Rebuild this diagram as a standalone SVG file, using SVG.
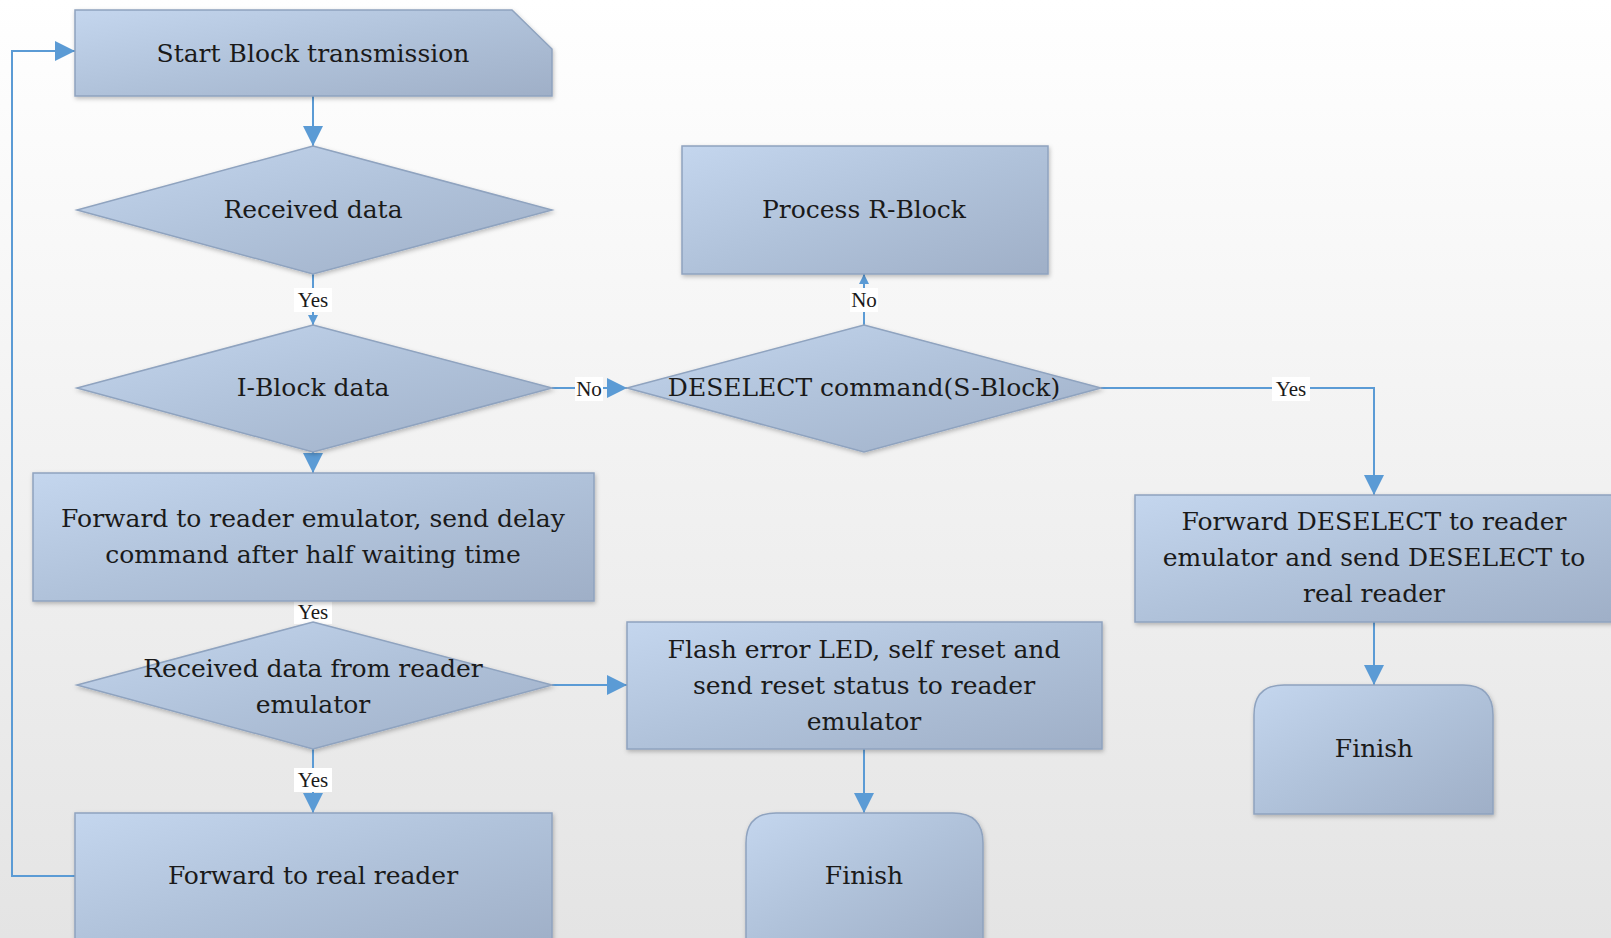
<svg xmlns="http://www.w3.org/2000/svg" width="1611" height="938" viewBox="0 0 1611 938">
<defs>
<linearGradient id="bg" x1="0" y1="0" x2="0" y2="1">
<stop offset="0" stop-color="#ffffff"/>
<stop offset="1" stop-color="#e4e4e4"/>
</linearGradient>
<linearGradient id="fill" x1="0" y1="0" x2="1" y2="1">
<stop offset="0" stop-color="#c4d6ee"/>
<stop offset="0.5" stop-color="#b0c2da"/>
<stop offset="1" stop-color="#9fafc7"/>
</linearGradient>
<filter id="sh" x="-5%" y="-5%" width="112%" height="120%">
<feDropShadow dx="1" dy="2" stdDeviation="2" flood-color="#000" flood-opacity="0.25"/>
</filter>
<marker id="arr" markerUnits="userSpaceOnUse" markerWidth="22" markerHeight="22" refX="20" refY="10" orient="auto">
<path d="M0,0 L20,10 L0,20 Z" fill="#5b9bd5"/>
</marker>
<marker id="arrs" markerUnits="userSpaceOnUse" markerWidth="12" markerHeight="12" refX="10" refY="5" orient="auto">
<path d="M0,0 L10,5 L0,10 Z" fill="#5b9bd5"/>
</marker>
<style>
.node{fill:url(#fill);stroke:#8fa3bf;stroke-width:1.5;filter:url(#sh)}
.t{font-family:"DejaVu Serif","Liberation Serif",serif;font-size:25px;fill:#1a1a1a;text-anchor:middle}
.c{fill:none;stroke:#5b9bd5;stroke-width:2}
.lbl{font-family:"Liberation Serif","DejaVu Serif",serif;font-size:21px;fill:#1a1a1a;text-anchor:middle}
.lb{fill:#ffffff}
</style>
</defs>
<rect x="0" y="0" width="1611" height="938" fill="url(#bg)"/>

<g id="connectors">
<path class="c" d="M313,96 L313,146" marker-end="url(#arr)"/>
<path class="c" d="M313,274 L313,325" marker-end="url(#arrs)"/>
<path class="c" d="M552,388 L627,388" marker-end="url(#arr)"/>
<path class="c" d="M864,325 L864,274" marker-end="url(#arrs)"/>
<path class="c" d="M1101,388 L1374,388 L1374,495" marker-end="url(#arr)"/>
<path class="c" d="M1374,622 L1374,685" marker-end="url(#arr)"/>
<path class="c" d="M313,452 L313,473" marker-end="url(#arr)"/>
<path class="c" d="M313,601 L313,622"/>
<path class="c" d="M552,685 L627,685" marker-end="url(#arr)"/>
<path class="c" d="M864,749 L864,813" marker-end="url(#arr)"/>
<path class="c" d="M313,749 L313,813" marker-end="url(#arr)"/>
<path class="c" d="M75,876 L12,876 L12,51 L75,51" marker-end="url(#arr)"/>
<rect class="lb" x="294" y="288" width="38" height="24"/>
<text class="lbl" x="313" y="307">Yes</text>
<rect class="lb" x="575" y="377" width="28" height="24"/>
<text class="lbl" x="589" y="396">No</text>
<rect class="lb" x="850" y="288" width="28" height="24"/>
<text class="lbl" x="864" y="307">No</text>
<rect class="lb" x="1272" y="377" width="38" height="24"/>
<text class="lbl" x="1291" y="396">Yes</text>
<rect class="lb" x="294" y="600" width="38" height="24"/>
<text class="lbl" x="313" y="619">Yes</text>
<rect class="lb" x="294" y="768" width="38" height="24"/>
<text class="lbl" x="313" y="787">Yes</text>
</g>

<g id="start">
<path class="node" d="M75,10 L512,10 L552,49 L552,96 L75,96 Z"/>
<text class="t" x="313" y="62">Start Block transmission</text>
</g>
<g id="received">
<path class="node" d="M313,146 L552,210 L313,274 L77,210 Z"/>
<text class="t" x="313" y="218">Received data</text>
</g>
<g id="iblock">
<path class="node" d="M313,325 L552,388 L313,452 L77,388 Z"/>
<text class="t" x="313" y="396">I-Block data</text>
</g>
<g id="deselect">
<path class="node" d="M864,325 L1101,388 L864,452 L627,388 Z"/>
<text class="t" x="864" y="396">DESELECT command(S-Block)</text>
</g>
<g id="rblock">
<rect class="node" x="682" y="146" width="366" height="128"/>
<text class="t" x="864" y="218">Process R-Block</text>
</g>
<g id="fwd-deselect">
<rect class="node" x="1135" y="495" width="480" height="127"/>
<text class="t" x="1374" y="530">Forward DESELECT to reader</text>
<text class="t" x="1374" y="566">emulator and send DESELECT to</text>
<text class="t" x="1374" y="602">real reader</text>
</g>
<g id="finish-right">
<path class="node" d="M1254,814 L1254,715 Q1254,685 1284,685 L1463,685 Q1493,685 1493,715 L1493,814 Z"/>
<text class="t" x="1374" y="757">Finish</text>
</g>
<g id="fwd-emulator">
<rect class="node" x="33" y="473" width="561" height="128"/>
<text class="t" x="313" y="527">Forward to reader emulator, send delay</text>
<text class="t" x="313" y="563">command after half waiting time</text>
</g>
<g id="received-emu">
<path class="node" d="M313,622 L552,685 L313,749 L77,685 Z"/>
<text class="t" x="313" y="677">Received data from reader</text>
<text class="t" x="313" y="713">emulator</text>
</g>
<g id="flash">
<rect class="node" x="627" y="622" width="475" height="127"/>
<text class="t" x="864" y="658">Flash error LED, self reset and</text>
<text class="t" x="864" y="694">send reset status to reader</text>
<text class="t" x="864" y="730">emulator</text>
</g>
<g id="finish-mid">
<path class="node" d="M746,945 L746,843 Q746,813 776,813 L953,813 Q983,813 983,843 L983,945 Z"/>
<text class="t" x="864" y="884">Finish</text>
</g>
<g id="real-reader">
<rect class="node" x="75" y="813" width="477" height="135"/>
<text class="t" x="313" y="884">Forward to real reader</text>
</g>
</svg>
